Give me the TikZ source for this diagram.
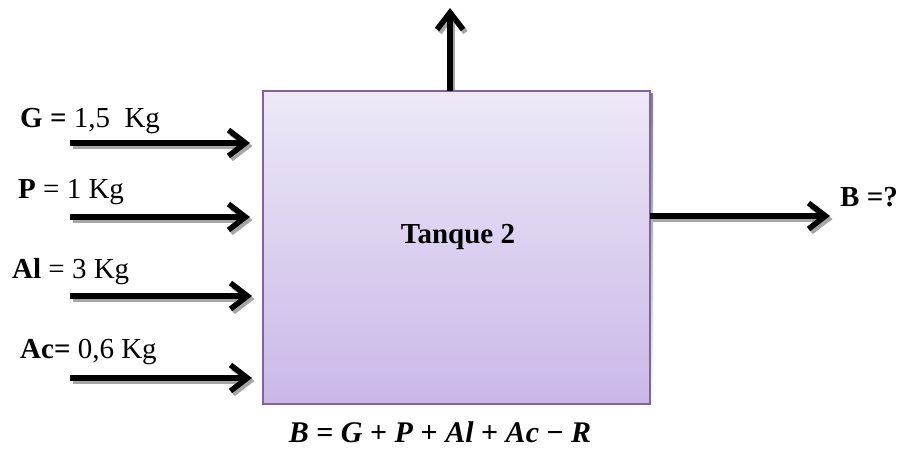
\documentclass[tikz,border=0pt]{standalone}
\usepackage{fontspec}
\setmainfont{Liberation Serif}
\usetikzlibrary{arrows.meta}
\definecolor{boxtop}{HTML}{EEE8F7}
\definecolor{boxbot}{HTML}{C9B8E8}
\definecolor{boxline}{HTML}{8064A2}
\definecolor{shade}{HTML}{A6A6A6}
\tikzset{
  flow/.style={line width=5.5pt, -{Straight Barb[length=17pt,width=26pt]}},
  flowshadow/.style={flow, draw=shade},
  lbl/.style={font=\fontsize{29}{32}\selectfont, anchor=west, inner sep=0pt},
  tankbox/.style={draw=boxline, line width=1.2pt, top color=boxtop, bottom color=boxbot,
     minimum width=387pt, minimum height=313pt, inner sep=0pt}
}
\begin{document}
\begin{tikzpicture}[x=1pt,y=-1pt]
\useasboundingbox (0,0) rectangle (904,468);
\node[tankbox] (tank) at (456.5,247.5) {};
% coordinates
\coordinate (g0) at (70,143);  \coordinate (g1) at (250,143);
\coordinate (p0) at (70,217);  \coordinate (p1) at (250,217);
\coordinate (a0) at (70,296);  \coordinate (a1) at (252,296);
\coordinate (c0) at (70,378);  \coordinate (c1) at (252,378);
\coordinate (o0) at (650,216); \coordinate (o1) at (830,216);
\coordinate (t0) at (450,91);  \coordinate (t1) at (450,8);
% shadows
\begin{scope}[transform canvas={xshift=2.5pt,yshift=-3pt}]
  \fill[shade] (tank.north west) rectangle (tank.south east);
  \foreach \s/\e in {g0/g1,p0/p1,a0/a1,c0/c1,o0/o1,t0/t1}
    \draw[flowshadow] (\s) -- (\e);
\end{scope}
% box
\node[tankbox] (tankfront) at (tank) {};
\node[font=\fontsize{29}{32}\selectfont\bfseries, inner sep=0pt] (title) at (458,237) {Tanque 2};
% arrows
\foreach \s/\e in {g0/g1,p0/p1,a0/a1,c0/c1,o0/o1,t0/t1}
  \draw[flow] (\s) -- (\e);
% labels
\node[lbl] (lg) at (20,121) {\textbf{G =} 1,5\ \ Kg};
\node[lbl] (lp) at (18,192) {\textbf{P} = 1 Kg};
\node[lbl] (la) at (12,272) {\textbf{Al} = 3 Kg};
\node[lbl] (lc) at (20,352) {\textbf{Ac=} 0,6 Kg};
\node[lbl] (lb) at (840,197) {\textbf{B =?}};
\node[font=\fontsize{30}{33}\selectfont\bfseries, inner sep=0pt] (eq) at (440,432)
  {\textit{B} = \textit{G} + \textit{P} + \textit{Al} + \textit{Ac} − \textit{R}};
\end{tikzpicture}
\end{document}
